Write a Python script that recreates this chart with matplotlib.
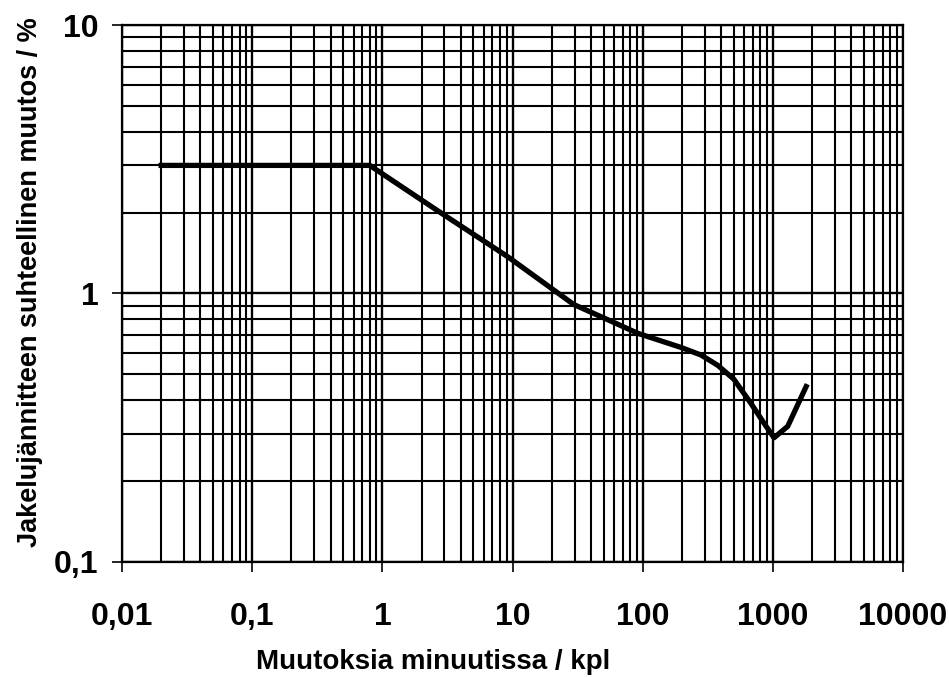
import matplotlib.pyplot as plt
from matplotlib.ticker import FixedLocator, FixedFormatter, NullFormatter, LogLocator

# Relative change of distribution voltage vs. number of changes per minute
changesPerMin = [0.02, 0.8, 2.8, 9.2, 29.5, 60, 92, 196, 280, 377, 500, 677, 850, 1020, 1300, 1800]
voltageChange = [3.0, 3.0, 2.0, 1.37, 0.91, 0.78, 0.71, 0.63, 0.59, 0.54, 0.48, 0.39, 0.33, 0.29, 0.32, 0.45]

xTicks = [0.01, 0.1, 1, 10, 100, 1000, 10000]
xTickLabels = ["0,01", "0,1", "1", "10", "100", "1000", "10000"]
yTicks = [0.1, 1, 10]
yTickLabels = ["0,1", "1", "10"]

plt.rcParams['font.family'] = ['Liberation Sans', 'DejaVu Sans']

fig = plt.figure(figsize=(9.49, 6.77), dpi=100)
ax = fig.add_axes([0.1286, 0.170, 0.823, 0.793])

ax.plot(changesPerMin, voltageChange, color='black', linewidth=3.8,
        solid_joinstyle='round', zorder=5)

ax.set_xscale('log')
ax.set_yscale('log')
ax.set_xlim(0.01, 10000)
ax.set_ylim(0.1, 10)

ax.xaxis.set_major_locator(FixedLocator(xTicks))
ax.xaxis.set_major_formatter(FixedFormatter(xTickLabels))
ax.yaxis.set_major_locator(FixedLocator(yTicks))
ax.yaxis.set_major_formatter(FixedFormatter(yTickLabels))
ax.xaxis.set_minor_locator(LogLocator(base=10, subs=range(2, 10), numticks=20))
ax.yaxis.set_minor_locator(LogLocator(base=10, subs=range(2, 10), numticks=20))
ax.xaxis.set_minor_formatter(NullFormatter())
ax.yaxis.set_minor_formatter(NullFormatter())

ax.grid(which='major', axis='both', color='black', linewidth=1.7)
ax.grid(which='minor', axis='both', color='black', linewidth=1.5)

ax.tick_params(which='major', direction='out', length=7, width=1.2,
               labelsize=23, pad=10)
ax.tick_params(which='minor', length=0)
for lbl in ax.get_xticklabels() + ax.get_yticklabels():
    lbl.set_fontweight('bold')
ax.tick_params(axis='x', pad=22)

for side in ax.spines.values():
    side.set_color('black')
    side.set_linewidth(1.6)

fig.text(433 / 949, 1 - 662 / 677, "Muutoksia minuutissa / kpl", fontsize=20,
         fontweight='bold', ha='center', va='center')
fig.text(30 / 949, 1 - 282 / 677, "Jakelujännitteen suhteellinen muutos / %",
         fontsize=19.5, fontweight='bold', rotation=90, ha='center', va='center')

fig.savefig("out.png", dpi=100, facecolor='white')
